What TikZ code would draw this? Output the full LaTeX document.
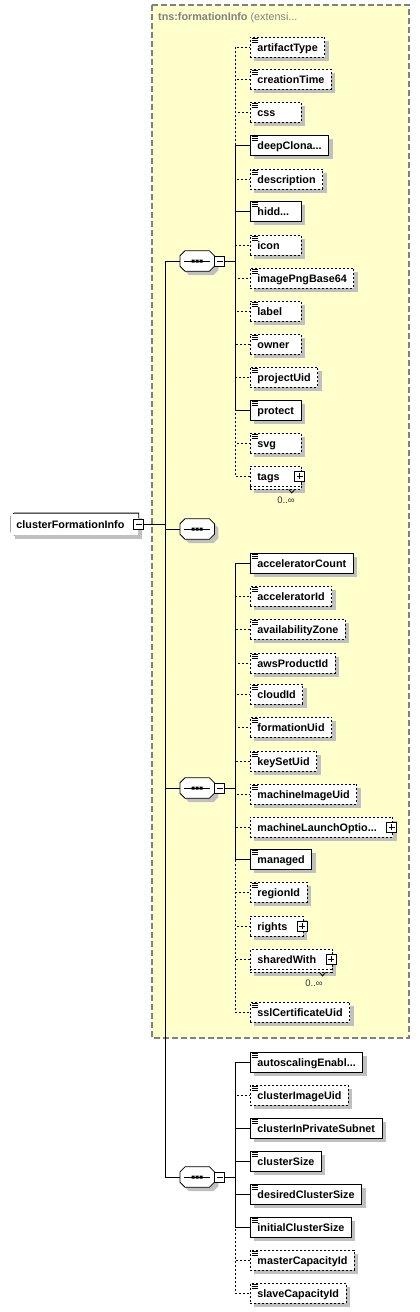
\documentclass[tikz,border=0pt]{standalone}
\usepackage{fontspec}
\setmainfont{Liberation Sans}
\usetikzlibrary{shadows}
\definecolor{extyellow}{HTML}{FFFFCC}
\definecolor{extgray}{HTML}{808080}
\definecolor{shadowgray}{HTML}{C0C0C0}
% boxes are never narrower than the shortest element
\newcommand\minlbl[1]{\setbox0\hbox{#1}\ifdim\wd0<37pt\makebox[37pt][l]{#1}\else\box0\fi}
% octagon round a compositor node, shifted by #2,#3
\newcommand\octpath[3]{([xshift=5pt+#2,yshift=#3]#1.north west) -- ([xshift=-5pt+#2,yshift=#3]#1.north east)
  -- ([xshift=#2,yshift=-5pt+#3]#1.north east) -- ([xshift=#2,yshift=5pt+#3]#1.south east)
  -- ([xshift=-5pt+#2,yshift=#3]#1.south east) -- ([xshift=5pt+#2,yshift=#3]#1.south west)
  -- ([xshift=#2,yshift=5pt+#3]#1.south west) -- ([xshift=#2,yshift=-5pt+#3]#1.north west) -- cycle}
\newcommand\seqsymbol[1]{%
  \fill[shadowgray] \octpath{#1}{4pt}{-4pt};
  \draw[fill=white,line width=0.8pt] \octpath{#1}{0pt}{0pt};
  \draw[line width=0.8pt] ([xshift=4pt]#1.west) -- ([xshift=-4pt]#1.east);
  \fill ([xshift=-5.5pt,yshift=-1.5pt]#1.center) rectangle ([xshift=-2.5pt,yshift=1.5pt]#1.center)
        ([xshift=-1.5pt,yshift=-1.5pt]#1.center) rectangle ([xshift=1.5pt,yshift=1.5pt]#1.center)
        ([xshift=2.5pt,yshift=-1.5pt]#1.center) rectangle ([xshift=5.5pt,yshift=1.5pt]#1.center);}
% outline of the root element, left corners cut
\newcommand\rootoutline[1]{%
  \draw[line width=0.8pt] ([xshift=3pt]#1.north west) -- (#1.north east) -- (#1.south east)
    -- ([xshift=3pt]#1.south west) -- ([yshift=3pt]#1.south west) -- ([yshift=-3pt]#1.north west) -- cycle;}
\begin{document}
\begin{tikzpicture}[x=1pt,y=-1pt]
        \tikzset{
        xsd font/.style={font=\fontsize{10.8}{12}\selectfont\bfseries},
        xsd shadow/.style={drop shadow={shadow xshift=4pt,shadow yshift=-4pt,fill=shadowgray,opacity=1}},
        xsd box/.style={rectangle,draw,fill=white,line width=0.8pt,minimum height=20pt,inner xsep=7pt,inner ysep=0pt,text height=9.5pt,text depth=1.5pt,anchor=west,xsd font},
        xsd req/.style={xsd box,xsd shadow},
        xsd opt/.style={xsd box,xsd shadow,dash pattern=on 2pt off 2pt},
        xsd optbare/.style={xsd box,dash pattern=on 2pt off 2pt},
        xsd root/.style={xsd box,xsd shadow,draw=none,inner xsep=5pt,minimum height=21pt,
            append after command={\pgfextra{\rootoutline{\tikzlastnode}}}},
        xsd simple/.style={path picture={
            \draw[solid,line width=0.7pt]
            ([xshift=1.5pt,yshift=-1.5pt]path picture bounding box.north west) -- +(6pt,0pt)
            ([xshift=1.5pt,yshift=-3.5pt]path picture bounding box.north west) -- +(6pt,0pt)
            ([xshift=1.5pt,yshift=-5.5pt]path picture bounding box.north west) -- +(6pt,0pt);}},
        xsd seq/.style={rectangle,minimum width=34pt,minimum height=20pt,inner sep=0pt,anchor=west,
            append after command={\pgfextra{\seqsymbol{\tikzlastnode}}}},
        xsd minus/.style={rectangle,draw,fill=white,line width=0.8pt,minimum size=10pt,inner sep=0pt,
            path picture={\draw[solid,line width=0.8pt] ([xshift=2pt]path picture bounding box.west) -- ([xshift=-2pt]path picture bounding box.east);}},
        xsd plus/.style={rectangle,draw,fill=white,line width=0.8pt,minimum size=10pt,inner sep=0pt,
            path picture={\draw[solid,line width=0.8pt] ([xshift=2pt]path picture bounding box.west) -- ([xshift=-2pt]path picture bounding box.east)
                ([yshift=2pt]path picture bounding box.south) -- ([yshift=-2pt]path picture bounding box.north);}},
        xsd occ/.style={font=\fontsize{9.5}{10}\selectfont,text=black!80,inner sep=0pt},
        xsd link/.style={line width=0.9pt,to path={|- (\tikztotarget)}},
        xsd must/.style={xsd link,solid},
        xsd may/.style={xsd link,dash pattern=on 2pt off 2pt}
        }
        \useasboundingbox (0,0) rectangle (420,1312);

        % extension area
        \fill[extyellow] (152,5) rectangle (409,1038);
        \draw[extgray,line width=1.2pt,dash pattern=on 6pt off 3pt] (152,5) rectangle (409,1038);
        \node[anchor=west,inner sep=0pt,text=extgray,xsd font] (extTitle) at (158,18) {tns:formationInfo \mdseries(extensi...};

        % root and compositors
        \node[xsd root] (root) at (11,524) {\makebox[117pt][l]{clusterFormationInfo}};
        \node[xsd minus] (rootm) at (root.east) {};
        \node[xsd seq] (seqA) at (180,261) {};
        \node[xsd minus,anchor=west] (seqAm) at (seqA.east) {};
        \node[xsd seq] (seqB) at (180,529) {};
        \node[xsd seq] (seqC) at (180,788) {};
        \node[xsd minus,anchor=west] (seqCm) at (seqC.east) {};
        \node[xsd seq] (seqD) at (180,1177) {};
        \node[xsd minus,anchor=west] (seqDm) at (seqD.east) {};
        \coordinate (jM) at (165,524);
        \coordinate (jA) at (235,261);
        \coordinate (jC) at (235,788);
        \coordinate (jD) at (235,1177);

        % first sequence
        \node[xsd opt,xsd simple] (artifactType) at (250,47) {\minlbl{artifactType}};
        \node[xsd opt,xsd simple] (creationTime) at (250,79) {\minlbl{creationTime}};
        \node[xsd opt,xsd simple] (css) at (250,112) {\minlbl{css}};
        \node[xsd req,xsd simple] (deepClonable) at (250,145) {\minlbl{deepClona...}};
        \node[xsd opt,xsd simple] (description) at (250,179) {\minlbl{description}};
        \node[xsd req,xsd simple] (hidden) at (250,211) {\minlbl{hidd...}};
        \node[xsd opt,xsd simple] (icon) at (250,245) {\minlbl{icon}};
        \node[xsd opt,xsd simple] (imagePngBase64) at (250,278) {\minlbl{imagePngBase64}};
        \node[xsd opt,xsd simple] (label) at (250,311) {\minlbl{label}};
        \node[xsd opt,xsd simple] (owner) at (250,344) {\minlbl{owner}};
        \node[xsd opt,xsd simple] (projectUid) at (250,377) {\minlbl{projectUid}};
        \node[xsd req,xsd simple] (protect) at (250,410) {\minlbl{protect}};
        \node[xsd opt,xsd simple] (svg) at (250,443) {\minlbl{svg}};
        \node[xsd opt] (tagsBack) at (250,479) {\phantom{\minlbl{tags\hspace{10pt}}}};
        \node[xsd optbare] (tags) at (250,476) {\minlbl{tags\hspace{10pt}}};
        \node[xsd plus] (tagsp) at ([xshift=-2pt]tags.east) {};
        \draw[line width=0.8pt] ([xshift=-13pt]tagsBack.south east) -- ++(3pt,-3.5pt) -- ++(3pt,3.5pt);
        \node[xsd occ] (tagsOcc) at (286,500) {0..∞};

        % third sequence
        \node[xsd req,xsd simple] (acceleratorCount) at (250,563) {\minlbl{acceleratorCount}};
        \node[xsd opt,xsd simple] (acceleratorId) at (250,596) {\minlbl{acceleratorId}};
        \node[xsd opt,xsd simple] (availabilityZone) at (250,629) {\minlbl{availabilityZone}};
        \node[xsd opt,xsd simple] (awsProductId) at (250,663) {\minlbl{awsProductId}};
        \node[xsd opt,xsd simple] (cloudId) at (250,694) {\minlbl{cloudId}};
        \node[xsd opt,xsd simple] (formationUid) at (250,727) {\minlbl{formationUid}};
        \node[xsd opt,xsd simple] (keySetUid) at (250,761) {\minlbl{keySetUid}};
        \node[xsd opt,xsd simple] (machineImageUid) at (250,794) {\minlbl{machineImageUid}};
        \node[xsd opt] (machineLaunch) at (250,827) {\minlbl{machineLaunchOptio...\hspace{9pt}}};
        \node[xsd plus] (machineLaunchp) at ([xshift=-1.5pt]machineLaunch.east) {};
        \node[xsd req,xsd simple] (managed) at (250,859) {\minlbl{managed}};
        \node[xsd opt,xsd simple] (regionId) at (250,892) {\minlbl{regionId}};
        \node[xsd opt] (rights) at (250,926) {\minlbl{rights\hspace{9pt}}};
        \node[xsd plus] (rightsp) at ([xshift=-1.5pt]rights.east) {};
        \node[xsd opt] (sharedWithBack) at (250,962) {\phantom{\minlbl{sharedWith\hspace{9pt}}}};
        \node[xsd optbare] (sharedWith) at (250,959) {\minlbl{sharedWith\hspace{9pt}}};
        \node[xsd plus] (sharedWithp) at ([xshift=-1.5pt]sharedWith.east) {};
        \draw[line width=0.8pt] ([xshift=-13pt]sharedWithBack.south east) -- ++(3pt,-3.5pt) -- ++(3pt,3.5pt);
        \node[xsd occ] (sharedWithOcc) at (314,983) {0..∞};
        \node[xsd opt,xsd simple] (sslCertificateUid) at (250,1012) {\minlbl{sslCertificateUid}};

        % fourth sequence
        \node[xsd req,xsd simple] (autoscalingEnabled) at (250,1062) {\minlbl{autoscalingEnabl...}};
        \node[xsd opt,xsd simple] (clusterImageUid) at (250,1095) {\minlbl{clusterImageUid}};
        \node[xsd req,xsd simple] (clusterInPrivateSubnet) at (250,1128) {\minlbl{clusterInPrivateSubnet}};
        \node[xsd req,xsd simple] (clusterSize) at (250,1161) {\minlbl{clusterSize}};
        \node[xsd req,xsd simple] (desiredClusterSize) at (250,1194) {\minlbl{desiredClusterSize}};
        \node[xsd req,xsd simple] (initialClusterSize) at (250,1227) {\minlbl{initialClusterSize}};
        \node[xsd opt,xsd simple] (masterCapacityId) at (250,1260) {\minlbl{masterCapacityId}};
        \node[xsd opt,xsd simple] (slaveCapacityId) at (250,1293) {\minlbl{slaveCapacityId}};

        \path[draw,line width=0.9pt]
        (rootm) -- (jM)
        (seqAm) -- (jA)
        (seqCm) -- (jC)
        (seqDm) -- (jD)
        (jM) edge[xsd must] (seqA)
        (jM) edge[xsd must] (seqB)
        (jM) edge[xsd must] (seqC)
        (jM) edge[xsd must] (seqD)
        ;
        \path[draw]
        (jA) edge[xsd may] (artifactType)
        (jA) edge[xsd may] (creationTime)
        (jA) edge[xsd may] (css)
        (jA) edge[xsd must] (deepClonable)
        (jA) edge[xsd may] (description)
        (jA) edge[xsd must] (hidden)
        (jA) edge[xsd may] (icon)
        (jA) edge[xsd may] (imagePngBase64)
        (jA) edge[xsd may] (label)
        (jA) edge[xsd may] (owner)
        (jA) edge[xsd may] (projectUid)
        (jA) edge[xsd must] (protect)
        (jA) edge[xsd may] (svg)
        (jA) edge[xsd may] (tags)
        (jC) edge[xsd must] (acceleratorCount)
        (jC) edge[xsd may] (acceleratorId)
        (jC) edge[xsd may] (availabilityZone)
        (jC) edge[xsd may] (awsProductId)
        (jC) edge[xsd may] (cloudId)
        (jC) edge[xsd may] (formationUid)
        (jC) edge[xsd may] (keySetUid)
        (jC) edge[xsd may] (machineImageUid)
        (jC) edge[xsd may] (machineLaunch)
        (jC) edge[xsd must] (managed)
        (jC) edge[xsd may] (regionId)
        (jC) edge[xsd may] (rights)
        (jC) edge[xsd may] (sharedWith)
        (jC) edge[xsd may] (sslCertificateUid)
        (jD) edge[xsd must] (autoscalingEnabled)
        (jD) edge[xsd may] (clusterImageUid)
        (jD) edge[xsd must] (clusterInPrivateSubnet)
        (jD) edge[xsd must] (clusterSize)
        (jD) edge[xsd must] (desiredClusterSize)
        (jD) edge[xsd must] (initialClusterSize)
        (jD) edge[xsd may] (masterCapacityId)
        (jD) edge[xsd may] (slaveCapacityId)
        ;
    \end{tikzpicture}
\end{document}
